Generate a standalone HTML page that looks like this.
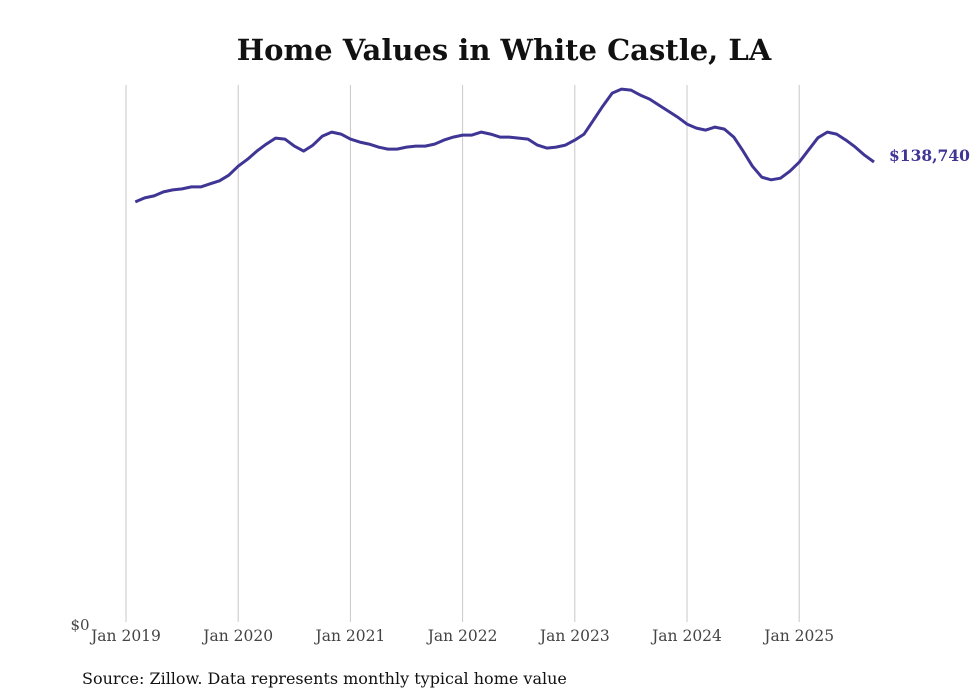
<!DOCTYPE html>
<html><head><meta charset="utf-8"><style>
html,body{margin:0;padding:0;background:#fff;}
svg{display:block;}
</style></head><body>
<svg id="chart" width="980" height="699" viewBox="0 0 980 699" font-family="'DejaVu Serif', serif">
<text x="504" y="60" text-anchor="middle" font-size="29" font-weight="bold" fill="#111">Home Values in White Castle, LA</text>
<g id="grid"></g>
<g id="xaxis"></g>
<text x="80" y="630" text-anchor="middle" font-size="15" fill="#444">$0</text>
<path id="line" fill="none" stroke="#3f3595" stroke-width="3" stroke-linejoin="round"/>
<text id="endlabel" font-size="15.5" font-weight="bold" fill="#3f3595"></text>
<text x="82" y="684" font-size="16" fill="#111">Source: Zillow. Data represents monthly typical home value</text>
</svg>
<script>
const years = ["Jan 2019","Jan 2020","Jan 2021","Jan 2022","Jan 2023","Jan 2024","Jan 2025"];
const startMonth = 1; // Feb 2019 (months since Jan 2019)
const values = [126.8,128.0,128.6,129.8,130.4,130.7,131.3,131.3,132.2,133.1,134.8,137.5,
139.6,142.0,144.1,145.9,145.6,143.5,142.0,143.8,146.5,147.7,147.1,145.6,
144.7,144.1,143.2,142.6,142.6,143.2,143.5,143.5,144.1,145.3,146.2,146.8,
146.8,147.7,147.1,146.2,146.2,145.9,145.6,143.8,142.9,143.2,143.8,145.3,
147.1,151.3,155.5,159.4,160.6,160.3,158.8,157.6,155.8,154.0,152.2,150.1,
148.9,148.3,149.2,148.6,146.2,142.0,137.5,134.2,133.4,133.9,136.0,138.7,
142.3,146.0,147.7,147.1,145.3,143.2,140.8,138.74];
const lastLabel = "$138,740";
const NS="http://www.w3.org/2000/svg";
const x = m => 126 + m*(112.2/12);
const y = v => 625 - v*3.337;
const grid=document.getElementById('grid'), xa=document.getElementById('xaxis');
years.forEach((t,i)=>{
  const gx=x(i*12);
  const l=document.createElementNS(NS,'line');
  l.setAttribute('x1',gx);l.setAttribute('x2',gx);l.setAttribute('y1',85);l.setAttribute('y2',622);
  l.setAttribute('stroke','#c8c8c8');l.setAttribute('stroke-width','1');
  
  
  grid.appendChild(l);
  const tx=document.createElementNS(NS,'text');
  tx.setAttribute('x',gx);tx.setAttribute('y',641);tx.setAttribute('text-anchor','middle');
  tx.setAttribute('font-size','15.5');tx.setAttribute('fill','#444');tx.textContent=t;
  
  
  xa.appendChild(tx);
});
let d='';
values.forEach((v,i)=>{d+=(i?'L':'M')+x(startMonth+i).toFixed(1)+','+y(v).toFixed(1);});
document.getElementById('line').setAttribute('d',d);
const el=document.getElementById('endlabel');
const li=values.length-1;
el.setAttribute('x',x(startMonth+li)+15);el.setAttribute('y',y(values[li])-1);
el.textContent=lastLabel;
</script>
</body></html>
